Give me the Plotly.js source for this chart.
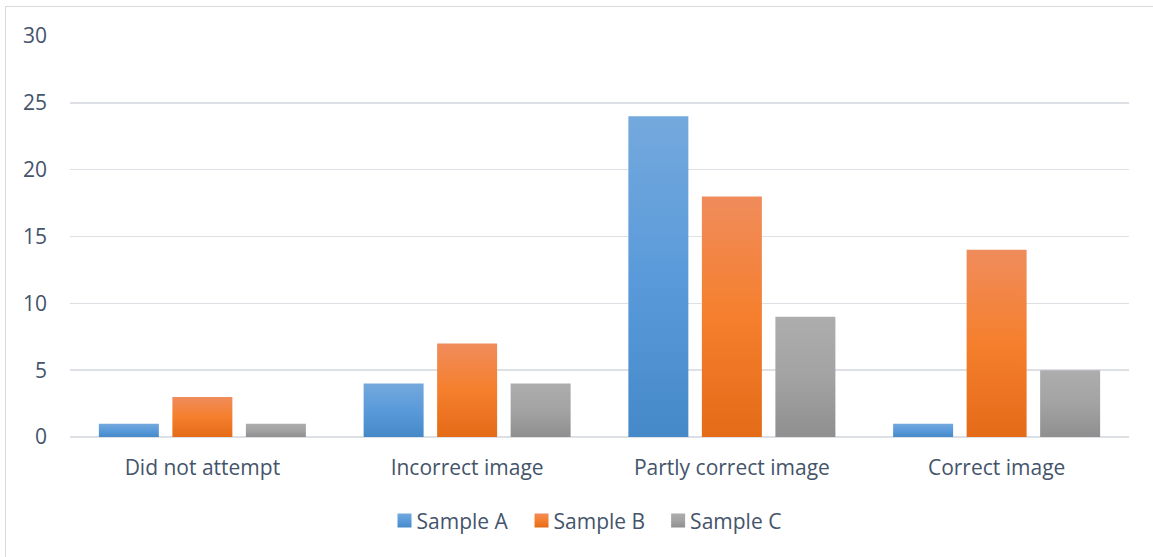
<!DOCTYPE html>
<html>
<head>
<meta charset="utf-8">
<script src="https://cdn.plot.ly/plotly-3.0.1.min.js"></script>
<style>
  html, body { margin: 0; padding: 0; background: #fff; overflow: hidden; }
  #chart { width: 1153px; height: 557px; position: absolute; left: 0; top: 0; }
  #frame { position: absolute; left: 5px; top: 6px; width: 1200px; height: 600px;
           border: 1px solid #d9d9d9; box-sizing: border-box; pointer-events: none; }
</style>
</head>
<body>
<div id="chart"></div>
<div id="frame"></div>
<script>
const categories = ["Did not attempt", "Incorrect image", "Partly correct image", "Correct image"];
const seriesNames = ["Sample A", "Sample B", "Sample C"];
const sampleA = [1, 4, 24, 1];
const sampleB = [3, 7, 18, 14];
const sampleC = [1, 4, 9, 5];
const yTicks = [0, 5, 10, 15, 20, 25, 30];

const baseColors = ["#5b9bd5", "#ed7d31", "#a5a5a5"];
const gradients = [
  ["#74a9dd", "#5a9ada", "#4589c9"],
  ["#f08c5c", "#f57f2d", "#e46b18"],
  ["#adadad", "#a3a3a3", "#8f8f8f"]
];

const font = "'Open Sans', 'Noto Sans', sans-serif";
const textColor = "#44546a";

const values = [sampleA, sampleB, sampleC];
const traces = values.map((v, i) => ({
  type: "bar",
  name: seriesNames[i],
  x: categories,
  y: v,
  marker: { color: baseColors[i], line: { width: 0 } },
  hoverinfo: "skip"
}));

const layout = {
  width: 1153,
  height: 557,
  margin: { l: 70, r: 24, t: 36, b: 120 },
  paper_bgcolor: "rgba(0,0,0,0)",
  plot_bgcolor: "rgba(0,0,0,0)",
  barmode: "group",
  bargap: 0.167,
  bargroupgap: 0.184,
  showlegend: true,
  legend: {
    orientation: "h",
    x: 0.5, xanchor: "center",
    y: -0.209, yanchor: "middle",
    font: { family: font, size: 21, color: textColor },
    itemwidth: 30,
    traceorder: "normal"
  },
  xaxis: {
    type: "category",
    showgrid: false,
    showline: false,
    zeroline: false,
    ticks: "",
    ticklabelstandoff: 16,
    tickfont: { family: font, size: 21, color: textColor }
  },
  yaxis: {
    range: [0, 30],
    tickvals: yTicks,
    ticktext: yTicks.map(String),
    showgrid: true,
    gridcolor: "#dde1e6",
    gridwidth: 1.5,
    zeroline: true,
    zerolinecolor: "#dde1e6",
    zerolinewidth: 1.5,
    showline: false,
    ticks: "",
    ticklabelstandoff: 22,
    tickfont: { family: font, size: 21, color: textColor }
  },
  font: { family: font, color: textColor }
};

Plotly.newPlot("chart", traces, layout, { displayModeBar: false, staticPlot: true }).then(gd => {
  const svgNS = "http://www.w3.org/2000/svg";
  const svg = gd.querySelector("svg.main-svg");
  let defs = svg.querySelector("defs");
  if (!defs) { defs = document.createElementNS(svgNS, "defs"); svg.insertBefore(defs, svg.firstChild); }
  gradients.forEach((stops, i) => {
    const lg = document.createElementNS(svgNS, "linearGradient");
    lg.setAttribute("id", "barGrad" + i);
    lg.setAttribute("x1", "0"); lg.setAttribute("y1", "0");
    lg.setAttribute("x2", "0"); lg.setAttribute("y2", "1");
    stops.forEach((c, k) => {
      const s = document.createElementNS(svgNS, "stop");
      s.setAttribute("offset", (k / (stops.length - 1) * 100) + "%");
      s.setAttribute("stop-color", c);
      lg.appendChild(s);
    });
    defs.appendChild(lg);
  });
  gd.querySelectorAll(".barlayer .trace.bars").forEach((tr, i) => {
    tr.querySelectorAll("path").forEach(p => { p.style.fill = "url(#barGrad" + i + ")"; });
  });
  // legend swatches: slightly larger squares, closer to their labels (Excel look)
  gd.querySelectorAll(".legend .traces").forEach((tr, i) => {
    tr.querySelectorAll(".legendpoints path").forEach(p => {
      p.style.fill = "url(#barGrad" + i + ")";
      p.setAttribute("d", "M7,7H-7V-7H7Z");
      p.setAttribute("transform", "translate(28,0)");
    });
  });
  const leg = gd.querySelector("g.legend");
  if (leg) {
    const t = leg.getAttribute("transform") || "";
    const m = t.match(/translate\(\s*([-\d.]+)[ ,]+([-\d.]+)\s*\)/);
    if (m) leg.setAttribute("transform", "translate(" + (parseFloat(m[1]) - 18) + "," + m[2] + ")");
  }
});
</script>
</body>
</html>
